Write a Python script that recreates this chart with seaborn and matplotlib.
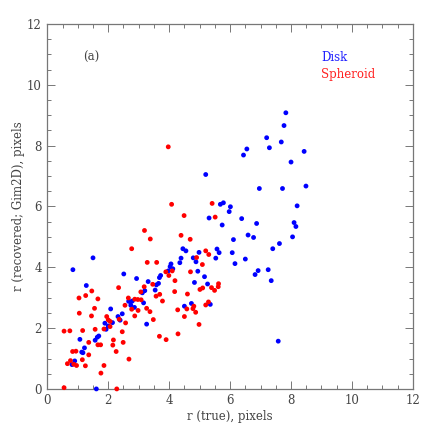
import numpy as np
import pandas as pd
import seaborn as sns
import matplotlib.pyplot as plt
from matplotlib.ticker import MultipleLocator

# Disk galaxies: true vs recovered radius (pixels)
disk_true = [7.83, 7.77, 7.20, 7.29, 7.68, 6.55, 6.44, 8.43, 8.00, 5.20,
             8.49, 6.96, 7.72, 5.68, 5.78, 6.01, 5.97, 8.20, 5.31, 6.38,
             5.74, 6.87, 8.10, 8.16, 6.59, 6.77, 6.11, 8.05, 4.45, 4.55,
             4.98, 5.57, 5.64, 6.07, 7.40, 7.62, 4.39, 4.79, 5.53, 6.50,
             4.88, 4.35, 6.16, 4.06, 4.03, 4.12, 3.97, 1.50, 0.84, 7.25,
             6.92, 6.82, 4.94, 2.51, 3.72, 3.68, 2.93, 5.16, 7.35, 3.31,
             3.65, 4.83, 3.58, 5.26, 1.28, 3.20, 3.54, 3.12, 2.67, 2.74,
             2.79, 2.74, 2.86, 3.16, 4.73, 5.35, 4.50, 2.08, 2.46, 2.32,
             2.39, 1.89, 2.14, 2.00, 1.93, 3.26, 1.69, 1.64, 1.57, 1.07,
             1.22, 1.13, 1.17, 0.90, 0.81, 1.61, 7.58]
disk_rec = [9.08, 8.66, 8.26, 7.93, 8.12, 7.89, 7.69, 7.81, 7.46, 7.05,
            6.67, 6.59, 6.59, 6.07, 6.12, 5.99, 5.83, 6.02, 5.62, 5.60,
            5.39, 5.44, 5.47, 5.34, 5.06, 4.98, 4.91, 5.00, 4.61, 4.54,
            4.49, 4.60, 4.48, 4.48, 4.61, 4.78, 4.30, 4.31, 4.30, 4.27,
            4.18, 4.15, 4.12, 4.11, 4.02, 3.95, 3.88, 4.31, 3.92, 3.92,
            3.89, 3.76, 3.87, 3.78, 3.73, 3.66, 3.63, 3.69, 3.56, 3.53,
            3.47, 3.50, 3.42, 3.45, 3.40, 3.23, 3.25, 3.16, 2.88, 2.86,
            2.89, 2.75, 2.68, 2.83, 2.81, 2.78, 2.72, 2.63, 2.47, 2.38,
            2.26, 2.16, 2.18, 2.07, 1.96, 2.13, 1.74, 1.70, 1.60, 1.63,
            1.35, 1.21, 1.19, 0.92, 0.80, 0.00, 1.57]

# Spheroid galaxies
sph_true = [3.97, 4.08, 5.41, 4.49, 5.51, 3.19, 3.38, 4.39, 4.69, 2.77,
            5.20, 5.30, 4.90, 3.28, 3.59, 5.09, 3.89, 4.10, 4.70, 3.99,
            4.19, 3.46, 5.62, 3.18, 5.61, 5.39, 5.10, 5.01, 2.34, 5.49,
            1.46, 4.18, 3.07, 3.69, 3.57, 4.60, 1.26, 1.04, 1.66, 2.66,
            2.87, 2.97, 3.08, 3.78, 5.29, 2.55, 5.20, 1.55, 2.77, 3.26,
            2.98, 4.81, 4.78, 4.28, 4.58, 3.37, 4.87, 1.05, 1.45, 2.87,
            4.50, 1.95, 2.00, 3.48, 2.06, 2.36, 2.57, 2.06, 4.98, 1.86,
            1.57, 0.55, 0.74, 1.16, 2.46, 3.68, 4.29, 3.90, 1.36, 2.17,
            2.49, 1.66, 1.75, 2.15, 0.83, 0.94, 2.26, 1.36, 1.15, 2.68,
            0.76, 0.66, 0.87, 0.96, 1.25, 1.86, 1.76, 0.55, 2.28]
sph_rec = [7.96, 6.07, 6.10, 5.70, 5.65, 5.21, 4.93, 5.05, 4.92, 4.61,
           4.54, 4.42, 4.32, 4.16, 4.16, 4.09, 3.85, 3.88, 3.85, 3.73,
           3.56, 3.44, 3.46, 3.36, 3.36, 3.33, 3.32, 3.27, 3.33, 3.24,
           3.22, 3.20, 3.19, 3.11, 3.05, 3.12, 3.07, 2.99, 2.96, 2.99,
           2.95, 2.94, 2.93, 2.89, 2.86, 2.75, 2.76, 2.65, 2.62, 2.65,
           2.58, 2.72, 2.64, 2.60, 2.63, 2.54, 2.52, 2.49, 2.40, 2.40,
           2.38, 2.38, 2.27, 2.28, 2.22, 2.29, 2.17, 2.05, 2.12, 1.97,
           1.96, 1.90, 1.91, 1.92, 1.88, 1.73, 1.81, 1.62, 1.53, 1.61,
           1.53, 1.45, 1.45, 1.44, 1.23, 1.24, 1.23, 1.12, 0.96, 0.98,
           0.93, 0.83, 0.81, 0.77, 0.76, 0.77, 0.52, 0.04, 0.00]

df = pd.concat([
    pd.DataFrame({'r_true': disk_true, 'r_rec': disk_rec, 'type': 'Disk'}),
    pd.DataFrame({'r_true': sph_true, 'r_rec': sph_rec, 'type': 'Spheroid'}),
])

sns.set_style('ticks')
plt.rcParams['font.family'] = ['DejaVu Serif']

fig = plt.figure(figsize=(4.36, 4.36), dpi=100)
ax = fig.add_axes([0.1085, 0.108, 0.8385, 0.837])

sns.scatterplot(data=df, x='r_true', y='r_rec', hue='type',
                palette={'Disk': '#0000ff', 'Spheroid': '#ff0000'},
                s=12, linewidth=0, legend=False, ax=ax, clip_on=False, zorder=3)

ax.set_xlim(0, 12)
ax.set_ylim(0, 12)
ax.xaxis.set_major_locator(MultipleLocator(2))
ax.yaxis.set_major_locator(MultipleLocator(2))
ax.xaxis.set_minor_locator(MultipleLocator(0.5))
ax.yaxis.set_minor_locator(MultipleLocator(0.5))
ax.tick_params(which='both', direction='in', top=True, right=True,
               color='#777777', labelsize=8.5, labelcolor='#444444', pad=4)
ax.tick_params(which='major', length=6, width=0.7)
ax.tick_params(which='minor', length=3, width=0.7)
for sp in ax.spines.values():
    sp.set_color('#777777')
    sp.set_linewidth(0.9)

ax.set_xlabel('r (true), pixels', fontsize=8.5, color='#444444', labelpad=2)
ax.set_ylabel('r (recovered; Gim2D), pixels', fontsize=8.5, color='#444444', labelpad=1)

ax.text(1.17, 10.9, '(a)', fontsize=8.5, color='#444444', va='center')
ax.text(9.0, 10.9, 'Disk', fontsize=8.5, color='#2020ff', va='center')
ax.text(9.0, 10.35, 'Spheroid', fontsize=8.5, color='#ff2020', va='center')

fig.savefig('out.png', dpi=100)
